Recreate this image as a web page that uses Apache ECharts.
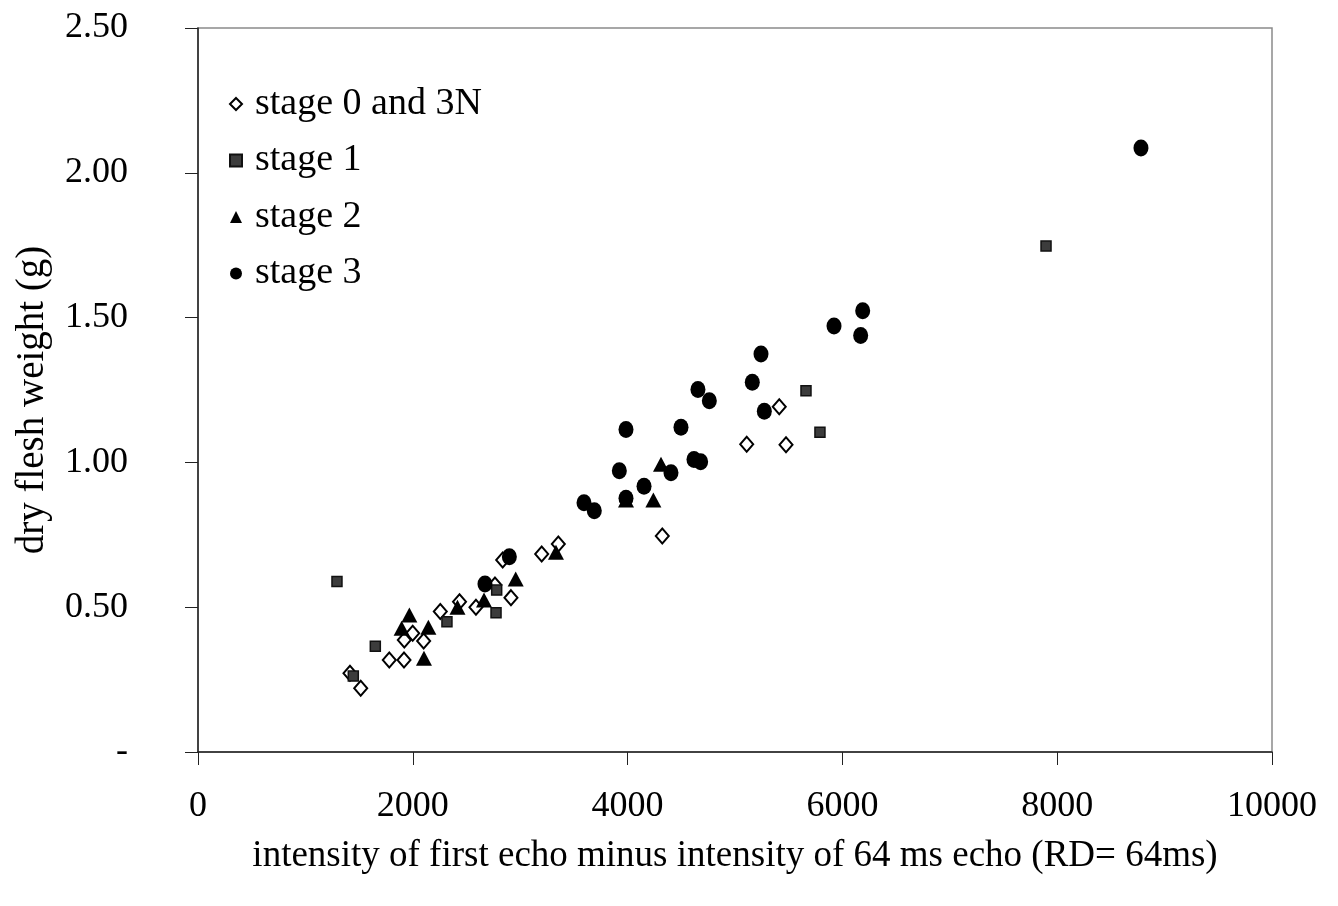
<!DOCTYPE html>
<html>
<head>
<meta charset="utf-8">
<script src="https://cdn.jsdelivr.net/npm/echarts@6/dist/echarts.min.js"></script>
<style>html,body{margin:0;padding:0;background:#fff}#c{width:1338px;height:906px}</style>
</head>
<body>
<div id="c"></div>
<script>
const seriesNames = ['stage 0 and 3N', 'stage 1', 'stage 2', 'stage 3'];
const stage0 = [[1415,0.272],[1515,0.220],[1781,0.318],[1918,0.318],[1921,0.387],[1999,0.410],[2101,0.383],[2256,0.485],[2435,0.519],[2588,0.500],[2765,0.577],[2837,0.663],[2914,0.533],[3200,0.684],[3355,0.718],[4323,0.746],[5109,1.063],[5412,1.192],[5475,1.061]];
const stage1 = [[1294,0.589],[1446,0.262],[1651,0.365],[2318,0.450],[2781,0.559],[2775,0.481],[5661,1.247],[5791,1.104],[7896,1.747]];
const stage2 = [[1896,0.427],[1968,0.473],[2145,0.431],[2104,0.324],[2416,0.500],[2663,0.525],[2958,0.597],[3333,0.690],[3985,0.870],[4240,0.870],[4311,0.994]];
const stage3 = [[2672,0.580],[2899,0.674],[3594,0.861],[3690,0.833],[3985,1.114],[3985,0.876],[3923,0.971],[4153,0.918],[4404,0.964],[4497,1.121],[4618,1.010],[4680,1.002],[4655,1.252],[4761,1.213],[5161,1.277],[5242,1.374],[5273,1.177],[5922,1.471],[6170,1.438],[6189,1.524],[8780,2.086]];
const xTicks = [0,2000,4000,6000,8000,10000];
const yTickLabels = {0:'-',0.5:'0.50',1:'1.00',1.5:'1.50',2:'2.00',2.5:'2.50'};

const chart = echarts.init(document.getElementById('c'));
const font = 'Liberation Serif, Times New Roman, serif';
chart.setOption({
  animation: false,
  backgroundColor: '#fff',
  grid: {left: 198, right: 66, top: 28, bottom: 154, show: true, borderColor: '#8a8a8a', borderWidth: 1.5},
  legend: {
    orient: 'vertical', left: 224, top: 80, itemWidth: 12, itemHeight: 12, itemGap: 18.5,
    textStyle: {fontFamily: font, fontSize: 38, color: '#000', padding: [0, 0, 0, 8]},
    data: seriesNames
  },
  xAxis: {
    type: 'value', min: xTicks[0], max: xTicks[xTicks.length-1], interval: 2000,
    name: 'intensity of first echo minus intensity of 64 ms echo (RD= 64ms)',
    nameLocation: 'middle', nameGap: 86,
    nameTextStyle: {fontFamily: font, fontSize: 37, color: '#000'},
    axisLine: {show: true, onZero: false, lineStyle: {color: '#222', width: 1.5}},
    axisTick: {show: true, inside: false, length: 13, lineStyle: {color: '#222'}},
    axisLabel: {margin: 37, fontFamily: font, fontSize: 36, color: '#000', formatter: v => String(v)},
    splitLine: {show: false}
  },
  yAxis: {
    type: 'value', min: 0, max: 2.5, interval: 0.5,
    name: 'dry flesh weight (g)', nameLocation: 'middle', nameGap: 146, nameRotate: 90,
    nameTextStyle: {fontFamily: font, fontSize: 39, color: '#000', padding: [0, 20, 0, 0]},
    axisLine: {show: true, onZero: false, lineStyle: {color: '#222', width: 1.5}},
    axisTick: {show: true, inside: false, length: 13, lineStyle: {color: '#222'}},
    axisLabel: {margin: 70, fontFamily: font, fontSize: 36, color: '#000',
      formatter: v => yTickLabels[Math.round(v*10)/10] ?? v.toFixed(2)},
    splitLine: {show: false}
  },
  series: [
    {name: seriesNames[0], type: 'scatter', data: stage0, symbol: 'diamond', symbolSize: [13,15],
     itemStyle: {color: '#fff', borderColor: '#000', borderWidth: 2, opacity: 1}, z: 2},
    {name: seriesNames[1], type: 'scatter', data: stage1, symbol: 'rect', symbolSize: 10,
     itemStyle: {color: '#3c3c3c', borderColor: '#111', borderWidth: 1.5, opacity: 1}, z: 3},
    {name: seriesNames[2], type: 'scatter', data: stage2, symbol: 'triangle', symbolSize: [16,15],
     itemStyle: {color: '#000', opacity: 1}, z: 4},
    {name: seriesNames[3], type: 'scatter', data: stage3, symbol: 'circle', symbolSize: [15,17],
     itemStyle: {color: '#000', opacity: 1}, z: 5}
  ]
});
</script>
</body>
</html>
